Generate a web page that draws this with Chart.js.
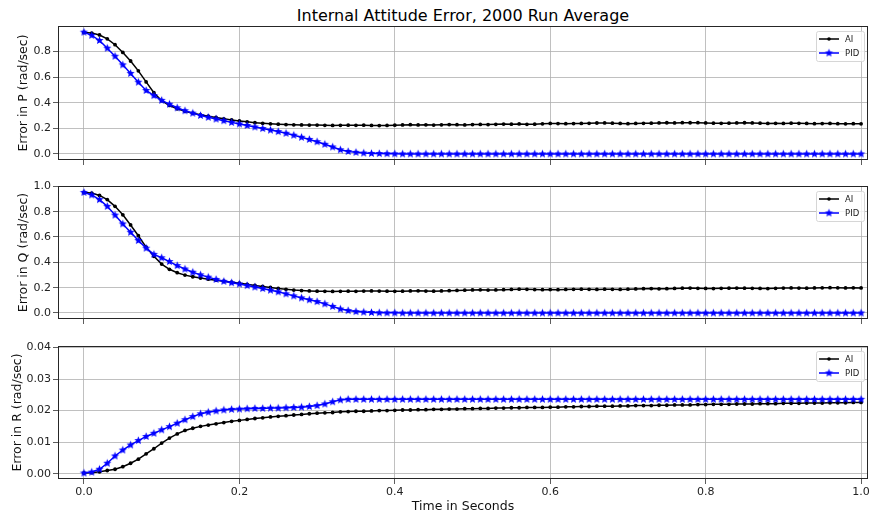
<!DOCTYPE html>
<html>
<head>
<meta charset="utf-8">
<script src="https://cdn.jsdelivr.net/npm/chart.js@4.4.0/dist/chart.umd.min.js"></script>
<style>
  body { margin: 0; background: #fff; width: 871px; height: 514px; position: relative; overflow: hidden; font-family: "DejaVu Sans", sans-serif; }
  canvas { position: absolute; left: 0; }
  #title { position: absolute; left: 58px; width: 810px; top: 6px; line-height: 19px; text-align: center; font-size: 16px; color: #000; }
</style>
</head>
<body>
<div id="title">Internal Attitude Error, 2000 Run Average</div>
<canvas id="cP" width="871" height="152" style="top:18px"></canvas>
<canvas id="cQ" width="871" height="151" style="top:178px"></canvas>
<canvas id="cR" width="871" height="176" style="top:338px"></canvas>
<script>
// sample times (s)
const times = [
  0.00,0.01,0.02,0.03,0.04,0.05,0.06,0.07,0.08,0.09,
  0.10,0.11,0.12,0.13,0.14,0.15,0.16,0.17,0.18,0.19,
  0.20,0.21,0.22,0.23,0.24,0.25,0.26,0.27,0.28,0.29,
  0.30,0.31,0.32,0.33,0.34,0.35,0.36,0.37,0.38,0.39,
  0.40,0.41,0.42,0.43,0.44,0.45,0.46,0.47,0.48,0.49,
  0.50,0.51,0.52,0.53,0.54,0.55,0.56,0.57,0.58,0.59,
  0.60,0.61,0.62,0.63,0.64,0.65,0.66,0.67,0.68,0.69,
  0.70,0.71,0.72,0.73,0.74,0.75,0.76,0.77,0.78,0.79,
  0.80,0.81,0.82,0.83,0.84,0.85,0.86,0.87,0.88,0.89,
  0.90,0.91,0.92,0.93,0.94,0.95,0.96,0.97,0.98,0.99,
  1.00
];

// Error in P
const pAI = [
  0.948,0.943,0.928,0.898,0.852,0.792,0.725,0.648,0.562,0.478,
  0.415,0.378,0.352,0.333,0.318,0.305,0.294,0.284,0.274,0.265,
  0.257,0.250,0.244,0.239,0.235,0.232,0.229,0.227,0.226,0.225,
  0.225,0.223,0.222,0.223,0.224,0.223,0.224,0.222,0.221,0.222,
  0.224,0.226,0.228,0.226,0.227,0.225,0.227,0.229,0.228,0.226,
  0.229,0.230,0.229,0.231,0.233,0.232,0.234,0.231,0.232,0.235,
  0.238,0.237,0.236,0.237,0.238,0.239,0.241,0.242,0.240,0.238,
  0.236,0.238,0.239,0.240,0.242,0.243,0.242,0.244,0.243,0.244,
  0.242,0.240,0.239,0.240,0.242,0.243,0.242,0.240,0.238,0.239,
  0.238,0.240,0.239,0.238,0.236,0.237,0.238,0.236,0.235,0.236,
  0.235
];
const pPID = [
  0.950,0.925,0.885,0.825,0.762,0.695,0.628,0.560,0.495,0.455,
  0.418,0.388,0.360,0.337,0.318,0.300,0.286,0.272,0.259,0.246,
  0.234,0.222,0.210,0.198,0.186,0.174,0.161,0.146,0.130,0.113,
  0.095,0.075,0.054,0.032,0.019,0.012,0.007,0.004,0.003,0.002,
  0.001,0,0,0,0,0,0,0,0,0,
  0,0,0,0,0,0,0,0,0,0,
  0,0,0,0,0,0,0,0,0,0,
  0,0,0,0,0,0,0,0,0,0,
  0,0,0,0,0,0,0,0,0,0,
  0,0,0,0,0,0,0,0,0,0,
  0
];

// Error in Q
const qAI = [
  0.952,0.947,0.928,0.895,0.842,0.775,0.695,0.610,0.520,0.448,
  0.386,0.345,0.318,0.299,0.286,0.276,0.267,0.259,0.251,0.243,
  0.235,0.226,0.217,0.209,0.201,0.194,0.187,0.181,0.177,0.174,
  0.172,0.171,0.170,0.171,0.172,0.171,0.173,0.174,0.173,0.172,
  0.171,0.172,0.174,0.175,0.173,0.172,0.174,0.176,0.178,0.180,
  0.182,0.183,0.181,0.182,0.184,0.186,0.188,0.187,0.185,0.184,
  0.185,0.184,0.186,0.187,0.188,0.187,0.186,0.188,0.187,0.186,
  0.188,0.190,0.192,0.193,0.191,0.192,0.194,0.196,0.197,0.195,
  0.194,0.193,0.195,0.196,0.197,0.196,0.195,0.194,0.193,0.195,
  0.197,0.198,0.197,0.196,0.198,0.199,0.200,0.199,0.198,0.199,
  0.198
];
const qPID = [
  0.952,0.932,0.895,0.842,0.773,0.703,0.637,0.572,0.512,0.463,
  0.436,0.406,0.374,0.347,0.322,0.301,0.283,0.265,0.250,0.239,
  0.229,0.216,0.205,0.193,0.180,0.167,0.151,0.135,0.119,0.104,
  0.090,0.072,0.052,0.031,0.019,0.011,0.007,0.004,0.002,0.001,
  0.001,0,0,0,0,0,0,0,0,0,
  0,0,0,0,0,0,0,0,0,0,
  0,0,0,0,0,0,0,0,0,0,
  0,0,0,0,0,0,0,0,0,0,
  0,0,0,0,0,0,0,0,0,0,
  0,0,0,0,0,0,0,0,0,0,
  0
];

// Error in R
const rAI = [
  0.0002,0.0003,0.0006,0.0010,0.0014,0.0022,0.0033,0.0046,0.0063,0.0079,
  0.0097,0.0113,0.0126,0.0137,0.0144,0.0150,0.0154,0.0158,0.0162,0.0166,
  0.0169,0.0172,0.0175,0.0177,0.0180,0.0182,0.0184,0.0186,0.0188,0.0190,
  0.0192,0.0193,0.0194,0.0196,0.0197,0.0198,0.0198,0.0199,0.0200,0.0200,
  0.0201,0.0202,0.0202,0.0203,0.0203,0.0204,0.0204,0.0205,0.0205,0.0206,
  0.0206,0.0207,0.0207,0.0208,0.0208,0.0209,0.0209,0.0210,0.0210,0.0210,
  0.0211,0.0211,0.0212,0.0212,0.0213,0.0213,0.0214,0.0214,0.0214,0.0215,
  0.0215,0.0216,0.0216,0.0216,0.0217,0.0217,0.0218,0.0218,0.0218,0.0219,
  0.0219,0.0220,0.0220,0.0220,0.0221,0.0221,0.0221,0.0222,0.0222,0.0222,
  0.0223,0.0223,0.0223,0.0224,0.0224,0.0224,0.0225,0.0225,0.0225,0.0226,
  0.0226
];
const rPID = [
  0.0002,0.0005,0.0014,0.0033,0.0056,0.0075,0.0091,0.0105,0.0118,0.0128,
  0.0139,0.0149,0.0160,0.0171,0.0181,0.0190,0.0195,0.0199,0.0202,0.0204,
  0.0205,0.0206,0.0207,0.0207,0.0208,0.0208,0.0209,0.0210,0.0211,0.0213,
  0.0216,0.0221,0.0228,0.0234,0.0236,0.0236,0.0236,0.0236,0.0236,0.0236,
  0.0236,0.0236,0.0236,0.0236,0.0236,0.0236,0.0236,0.0236,0.0236,0.0236,
  0.0236,0.0236,0.0236,0.0236,0.0236,0.0236,0.0236,0.0236,0.0236,0.0236,
  0.0236,0.0236,0.0236,0.0236,0.0236,0.0236,0.0236,0.0236,0.0236,0.0236,
  0.0236,0.0236,0.0236,0.0236,0.0236,0.0236,0.0236,0.0236,0.0236,0.0236,
  0.0236,0.0236,0.0236,0.0236,0.0236,0.0236,0.0236,0.0236,0.0236,0.0236,
  0.0236,0.0236,0.0236,0.0236,0.0236,0.0236,0.0236,0.0236,0.0236,0.0236,
  0.0236
];

const seriesNames = ['AI', 'PID'];
const xTicks = [0, 0.2, 0.4, 0.6, 0.8, 1.0];
const pTicks = [0, 0.2, 0.4, 0.6, 0.8];
const qTicks = [0, 0.2, 0.4, 0.6, 0.8, 1.0];
const rTicks = [0, 0.01, 0.02, 0.03, 0.04];

const FONT = '"DejaVu Sans", sans-serif';
Chart.defaults.font.family = FONT;

// filled star marker like matplotlib '*'
function makeStar(r, color) {
    const c = document.createElement('canvas');
    const s = Math.ceil(r * 2) + 2;
    c.width = s; c.height = s;
    const g = c.getContext('2d');
    g.fillStyle = color;
    g.beginPath();
    for (let i = 0; i < 10; i++) {
        const rad = i % 2 === 0 ? r : r * 0.45;
        const a = -Math.PI / 2 + i * Math.PI / 5;
        const px = s / 2 + rad * Math.cos(a), py = s / 2 + rad * Math.sin(a);
        if (i === 0) g.moveTo(px, py); else g.lineTo(px, py);
    }
    g.closePath();
    g.fill();
    return c;
}
const star = makeStar(4.3, '#0000ff');

// axes box (spines)
const framePlugin = {
    id: 'frame',
    afterDraw(chart) {
        const { ctx, chartArea: a } = chart;
        ctx.save();
        ctx.strokeStyle = '#262626';
        ctx.lineWidth = 1;
        ctx.strokeRect(a.left + 0.5, a.top + 0.5, a.right - a.left - 1, a.bottom - a.top - 1);
        ctx.restore();
    }
};

// small legend box in the upper right corner
const legendPlugin = {
    id: 'boxLegend',
    afterDraw(chart) {
        const { ctx, chartArea: a } = chart;
        const x0 = a.right - 52, y0 = a.top + 5, w = 48, h = 30;
        ctx.save();
        ctx.beginPath();
        ctx.roundRect(x0 + 0.5, y0 + 0.5, w, h, 2);
        ctx.fillStyle = 'rgba(255,255,255,0.8)';
        ctx.fill();
        ctx.strokeStyle = '#d6d6d6';
        ctx.lineWidth = 1;
        ctx.stroke();
        chart.data.datasets.forEach((ds, i) => {
            const y = y0 + 8 + i * 14;
            ctx.strokeStyle = ds.borderColor;
            ctx.lineWidth = 1.5;
            ctx.beginPath();
            ctx.moveTo(x0 + 3, y);
            ctx.lineTo(x0 + 23, y);
            ctx.stroke();
            if (ds.pointStyle === star) {
                ctx.drawImage(star, x0 + 13 - star.width / 2, y - star.height / 2);
            } else {
                ctx.fillStyle = ds.pointBackgroundColor;
                ctx.beginPath();
                ctx.arc(x0 + 13, y, 1.8, 0, Math.PI * 2);
                ctx.fill();
            }
            ctx.fillStyle = '#222';
            ctx.font = '8.5px ' + FONT;
            ctx.textBaseline = 'middle';
            ctx.fillText(ds.label, x0 + 29, y + 0.5);
        });
        ctx.restore();
    }
};

function toPoints(vals) {
    return vals.map((v, i) => ({ x: times[i], y: v }));
}

function makeChart(id, ai, pid, opt) {
    new Chart(document.getElementById(id), {
        type: 'line',
        data: {
            datasets: [
                {
                    label: seriesNames[0],
                    data: toPoints(ai),
                    borderColor: '#000000',
                    backgroundColor: '#000000',
                    pointBackgroundColor: '#000000',
                    borderWidth: 1.5,
                    pointRadius: 1.9,
                    pointBorderWidth: 0,
                    tension: 0,
                    order: 2
                },
                {
                    label: seriesNames[1],
                    data: toPoints(pid),
                    borderColor: '#0000ff',
                    backgroundColor: '#0000ff',
                    borderWidth: 1.5,
                    pointStyle: star,
                    pointRadius: 4,
                    tension: 0,
                    order: 1
                }
            ]
        },
        options: {
            responsive: false,
            animation: false,
            devicePixelRatio: 1,
            layout: { autoPadding: false, padding: { top: 8, right: 3, bottom: 0, left: 0 } },
            plugins: { legend: { display: false }, tooltip: { enabled: false } },
            scales: {
                x: {
                    type: 'linear',
                    min: -0.0334,
                    max: 1.0089,
                    afterBuildTicks: s => { s.ticks = xTicks.map(v => ({ value: v })); },
                    afterFit: s => {
                        s.height = opt.xHeight;
                        s.paddingLeft = 0; s.paddingRight = 0;
                    },
                    grid: { color: '#b0b0b0', lineWidth: 0.8, tickColor: '#333', tickLength: 5 },
                    border: { display: false },
                    ticks: {
                        display: opt.showX,
                        color: '#222',
                        font: { size: 11 },
                        padding: 2,
                        maxRotation: 0,
                        callback: v => v.toFixed(1)
                    },
                    title: {
                        display: opt.showX,
                        text: 'Time in Seconds',
                        color: '#111',
                        font: { size: 12.5 },
                        padding: { top: 0, bottom: 0 }
                    }
                },
                y: {
                    min: opt.yMin,
                    max: opt.yMax,
                    afterBuildTicks: s => { s.ticks = opt.yTicks.map(v => ({ value: v })); },
                    afterFit: s => {
                        s.width = 58;
                        s.paddingTop = 0; s.paddingBottom = 0;
                    },
                    grid: { color: '#b0b0b0', lineWidth: 0.8, tickColor: '#333', tickLength: 5 },
                    border: { display: false },
                    ticks: {
                        color: '#222',
                        font: { size: 11 },
                        padding: 2,
                        callback: v => v.toFixed(opt.digits)
                    },
                    title: {
                        display: true,
                        text: opt.yLabel,
                        color: '#111',
                        font: { size: 12.5 },
                        padding: { top: opt.titlePad, bottom: 0 }
                    }
                }
            }
        },
        plugins: [framePlugin, legendPlugin]
    });
}

makeChart('cP', pAI, pPID, {
    yMin: -0.0475, yMax: 0.998, yTicks: pTicks, digits: 1,
    yLabel: 'Error in P (rad/sec)', titlePad: 16, showX: false, xHeight: 10
});
makeChart('cQ', qAI, qPID, {
    yMin: -0.0475, yMax: 1.0025, yTicks: qTicks, digits: 1,
    yLabel: 'Error in Q (rad/sec)', titlePad: 16, showX: false, xHeight: 10
});
makeChart('cR', rAI, rPID, {
    yMin: -0.0017, yMax: 0.0405, yTicks: rTicks, digits: 2,
    yLabel: 'Error in R (rad/sec)', titlePad: 10, showX: true, xHeight: 35
});
</script>
</body>
</html>
